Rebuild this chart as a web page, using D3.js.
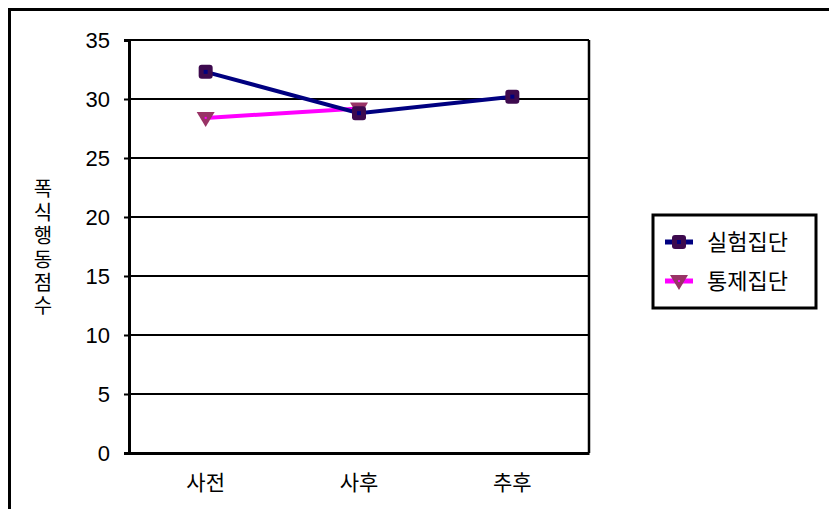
<!DOCTYPE html>
<html><head><meta charset="utf-8">
<script src="https://cdn.jsdelivr.net/npm/d3@7"></script>
<style>
body{margin:0;background:#fff;}
svg{display:block;font-family:"Liberation Sans","Noto Sans CJK KR",sans-serif;}
</style></head>
<body><svg id="chart" width="829" height="509"></svg>
<script>
const categories = ["사전", "사후", "추후"];
const seriesNames = ["실험집단", "통제집단"];
const experimental = [32.3, 28.8, 30.2];
const control = [28.4, 29.2, null];
const yTicks = [0, 5, 10, 15, 20, 25, 30, 35];
const yTitle = "폭식행동점수";

const svg = d3.select("#chart");
const m = {left:129, top:40, right:589, bottom:453};

// outer frame (top and left visible)
svg.append("path").attr("d","M9.5,509 V9.5 H829").attr("fill","none").attr("stroke","#000").attr("stroke-width",3);

const x = d3.scaleBand().domain(categories).range([m.left, m.right]);
const y = d3.scaleLinear().domain([0,35]).range([m.bottom, m.top]);

// gridlines
svg.append("g").selectAll("line").data(yTicks.filter(d=>d>0)).join("line")
  .attr("x1",m.left).attr("x2",m.right).attr("y1",d=>y(d)).attr("y2",d=>y(d))
  .attr("stroke","#000").attr("stroke-width",2);

// right border
svg.append("line").attr("x1",m.right).attr("x2",m.right).attr("y1",m.top).attr("y2",m.bottom).attr("stroke","#000").attr("stroke-width",2.5);

// y axis
const ya = svg.append("g").attr("transform",`translate(${m.left},0)`)
  .call(d3.axisLeft(y).tickValues(yTicks).tickSize(5).tickPadding(14));
ya.select(".domain").attr("stroke","#000").attr("stroke-width",3);
ya.selectAll(".tick line").attr("stroke","#000").attr("stroke-width",2);
ya.selectAll(".tick text").attr("font-size",22).attr("fill","#000").attr("font-family","Liberation Sans, sans-serif");

// x axis
const xa = svg.append("g").attr("transform",`translate(0,${m.bottom})`)
  .call(d3.axisBottom(x).tickSize(0).tickPadding(22));
xa.select(".domain").attr("stroke","#000").attr("stroke-width",3);
xa.selectAll(".tick text").attr("font-size",21).attr("fill","#000").attr("font-family","Noto Sans CJK KR, sans-serif");

// y title - vertical upright text
svg.append("text")
  .attr("x",43).attr("y",249)
  .attr("text-anchor","middle")
  .style("writing-mode","vertical-rl").style("text-orientation","upright")
  .style("letter-spacing","3.4px")
  .attr("font-size",20).attr("font-family","Noto Sans CJK KR, sans-serif")
  .text(yTitle);

const cx = c => x(c) + x.bandwidth()/2;
const line = d3.line().defined(d=>d.v!=null).x(d=>cx(d.c)).y(d=>y(d.v));
const expData = categories.map((c,i)=>({c, v:experimental[i]}));
const conData = categories.map((c,i)=>({c, v:control[i]}));

svg.append("path").datum(conData).attr("d",line).attr("fill","none").attr("stroke","#ff00ff").attr("stroke-width",4);
svg.append("path").datum(expData).attr("d",line).attr("fill","none").attr("stroke","#000080").attr("stroke-width",4);

function tri(g, px, py){
  g.append("path").attr("d",`M${px-9},${py-6} L${px+9},${py-6} L${px},${py+9} Z`).attr("fill","#993366");
  g.append("rect").attr("x",px-1).attr("y",py-1).attr("width",2).attr("height",2).attr("fill","#ff00ff");
}
function sq(g, px, py){
  g.append("rect").attr("x",px-7).attr("y",py-7).attr("width",14).attr("height",14).attr("rx",3).attr("fill","#3d0a4e");
  g.append("rect").attr("x",px-2).attr("y",py-2).attr("width",4).attr("height",4).attr("fill","#000080");
}
const mk = svg.append("g");
conData.filter(d=>d.v!=null).forEach(d=>tri(mk, cx(d.c), y(d.v)));
expData.filter(d=>d.v!=null).forEach(d=>sq(mk, cx(d.c), y(d.v)));

// legend
const lg = svg.append("g");
lg.append("rect").attr("x",653).attr("y",215).attr("width",163).attr("height",93).attr("fill","#fff").attr("stroke","#000").attr("stroke-width",3);
const lcolors = ["#000080","#ff00ff"];
seriesNames.forEach((n,i)=>{
  const ly = 242 + i*39;
  lg.append("line").attr("x1",665).attr("x2",693).attr("y1",ly).attr("y2",ly).attr("stroke",lcolors[i]).attr("stroke-width",5);
  if(i===0) sq(lg,679,ly); else tri(lg,679,ly);
  lg.append("text").attr("x",707).attr("y",ly).attr("dy","0.38em").attr("font-size",22)
    .attr("font-family","Noto Sans CJK KR, sans-serif").text(n);
});
</script></body></html>
